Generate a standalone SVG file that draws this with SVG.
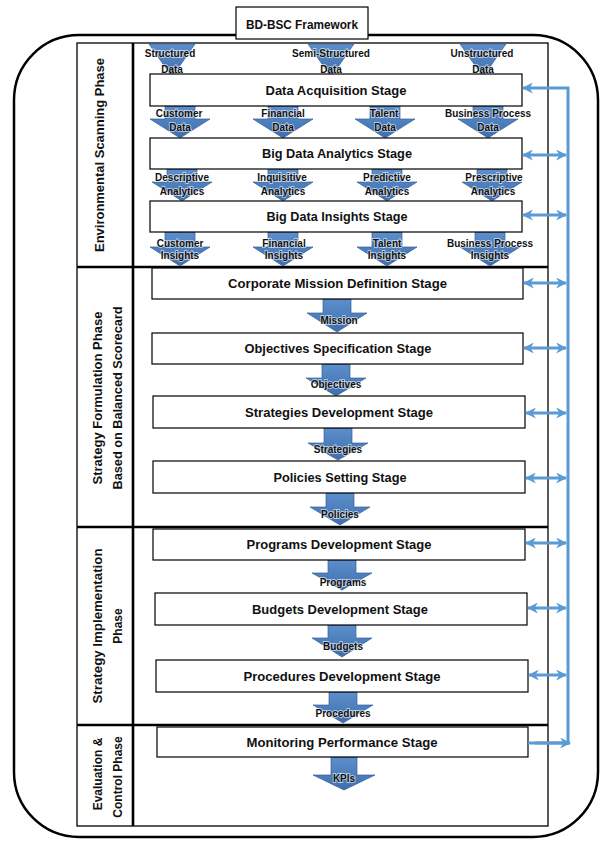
<svg xmlns="http://www.w3.org/2000/svg" width="605" height="841" viewBox="0 0 605 841">
  <style>
    .frame{fill:none;stroke:#000;stroke-width:2.5}
    .thin{fill:none;stroke:#000;stroke-width:1.3}
    .thick{fill:none;stroke:#000;stroke-width:2.6}
    .box{fill:#fff;stroke:#000;stroke-width:1.2}
    .stage{font-family:"Liberation Sans",Arial,sans-serif;font-weight:bold;font-size:12.5px;fill:#111;text-anchor:middle}
    .phase{font-family:"Liberation Sans",Arial,sans-serif;font-weight:bold;font-size:12px;fill:#111;text-anchor:middle}
    .lbl{font-family:"Liberation Sans",Arial,sans-serif;font-weight:bold;font-size:10px;fill:#111;text-anchor:middle;stroke:#fff;stroke-width:1.8;stroke-opacity:0.6;paint-order:stroke}
    .blk{fill:url(#blue);stroke:#355f98;stroke-width:0.7}
    .link{fill:none;stroke:#5b9bd5;stroke-width:3}
  </style>
  <defs>
    <linearGradient id="blue" x1="0" y1="0" x2="0" y2="1">
      <stop offset="0" stop-color="#5d8fcc"/>
      <stop offset="1" stop-color="#3e6eae"/>
    </linearGradient>
    <marker id="head" viewBox="0 0 10 10" refX="9" refY="5" markerWidth="11" markerHeight="11" markerUnits="userSpaceOnUse" orient="auto-start-reverse">
      <path d="M0,0 L10,5 L0,10 L3,5 Z" fill="#5b9bd5"/>
    </marker>
  </defs>

  <!-- outer rounded frame and title -->
  <rect class="frame" x="14" y="35" width="584" height="802" rx="65" ry="65"/>
  <g id="title">
    <rect class="box" x="236" y="7" width="132" height="32"/>
    <text class="stage" x="302" y="28.5" font-size="15" textLength="112" lengthAdjust="spacingAndGlyphs">BD-BSC Framework</text>
  </g>

  <!-- inner table: phase column and phase bands -->
  <rect class="thin" x="77" y="43" width="471" height="783"/>
  <line class="thick" x1="133" y1="43" x2="133" y2="826"/>
  <line class="thick" x1="77" y1="267" x2="548" y2="267"/>
  <line class="thick" x1="77" y1="527" x2="548" y2="527"/>
  <line class="thick" x1="77" y1="725" x2="548" y2="725"/>

  <g id="phase-scanning">
    <text class="phase" transform="translate(103.5,155) rotate(-90)" textLength="194" lengthAdjust="spacingAndGlyphs">Environmental Scanning Phase</text>
  </g>
  <g id="phase-formulation">
    <text class="phase" transform="translate(102,398) rotate(-90)" textLength="173" lengthAdjust="spacingAndGlyphs">Strategy Formulation Phase</text>
    <text class="phase" transform="translate(121.5,398) rotate(-90)" textLength="183" lengthAdjust="spacingAndGlyphs">Based on Balanced Scorecard</text>
  </g>
  <g id="phase-implementation">
    <text class="phase" transform="translate(102,626) rotate(-90)" textLength="155" lengthAdjust="spacingAndGlyphs">Strategy Implementation</text>
    <text class="phase" transform="translate(121.5,626) rotate(-90)">Phase</text>
  </g>
  <g id="phase-evaluation">
    <text class="phase" transform="translate(102,774) rotate(-90)">Evaluation &amp;</text>
    <text class="phase" transform="translate(121.5,777) rotate(-90)">Control Phase</text>
  </g>

  <!-- block arrows carrying data between stages -->
  <g id="flows">
    <!-- sources -->
    <path class="blk" d="M149,44 L195,44 L172,77 Z"/>
    <path class="blk" d="M308,44 L354,44 L331,77 Z"/>
    <path class="blk" d="M460,44 L506,44 L483,77 Z"/>
    <!-- acquisition outputs -->
    <path class="blk" d="M165,106 L195,106 L195,119 L210,119 L180,138 L150,119 L165,119 Z"/>
    <path class="blk" d="M268,106 L298,106 L298,119 L313,119 L283,138 L253,119 L268,119 Z"/>
    <path class="blk" d="M370,106 L400,106 L400,119 L415,119 L385,138 L355,119 L370,119 Z"/>
    <path class="blk" d="M473,106 L503,106 L503,119 L518,119 L488,138 L458,119 L473,119 Z"/>
    <!-- analytics outputs -->
    <path class="blk" d="M167,169 L197,169 L197,182 L212,182 L182,201 L152,182 L167,182 Z"/>
    <path class="blk" d="M268,169 L298,169 L298,182 L313,182 L283,201 L253,182 L268,182 Z"/>
    <path class="blk" d="M372,169 L402,169 L402,182 L417,182 L387,201 L357,182 L372,182 Z"/>
    <path class="blk" d="M477,169 L507,169 L507,182 L522,182 L492,201 L462,182 L477,182 Z"/>
    <!-- insights outputs -->
    <path class="blk" d="M165,232 L195,232 L195,247 L210,247 L180,266 L150,247 L165,247 Z"/>
    <path class="blk" d="M268,232 L298,232 L298,247 L313,247 L283,266 L253,247 L268,247 Z"/>
    <path class="blk" d="M372,232 L402,232 L402,247 L417,247 L387,266 L357,247 L372,247 Z"/>
    <path class="blk" d="M475,232 L505,232 L505,247 L520,247 L490,266 L460,247 L475,247 Z"/>
    <!-- formulation chain -->
    <path class="blk" d="M323,299 L351,299 L351,313 L367,313 L337,332 L307,313 L323,313 Z"/>
    <path class="blk" d="M322,364 L350,364 L350,378 L366,378 L336,396 L306,378 L322,378 Z"/>
    <path class="blk" d="M324,428 L352,428 L352,443 L368,443 L338,460 L308,443 L324,443 Z"/>
    <path class="blk" d="M326,493 L354,493 L354,507 L370,507 L340,525 L310,507 L326,507 Z"/>
    <!-- implementation chain -->
    <path class="blk" d="M328,560 L356,560 L356,573 L372,573 L342,590 L312,573 L328,573 Z"/>
    <path class="blk" d="M328,625 L356,625 L356,638 L372,638 L342,657 L312,638 L328,638 Z"/>
    <path class="blk" d="M329,692 L357,692 L357,705 L373,705 L343,723 L313,705 L329,705 Z"/>
    <path class="blk" d="M331,757 L357,757 L357,775 L375,775 L344,790 L313,775 L331,775 Z"/>
  </g>

  <g id="flow-labels">
    <text class="lbl" x="170" y="57">Structured</text><text class="lbl" x="172" y="73">Data</text>
    <text class="lbl" x="331" y="57">Semi-Structured</text><text class="lbl" x="331" y="73">Data</text>
    <text class="lbl" x="482" y="57">Unstructured</text><text class="lbl" x="483" y="73">Data</text>

    <text class="lbl" x="179" y="117">Customer</text><text class="lbl" x="180" y="131">Data</text>
    <text class="lbl" x="283" y="117">Financial</text><text class="lbl" x="283" y="131">Data</text>
    <text class="lbl" x="384" y="117">Talent</text><text class="lbl" x="385" y="131">Data</text>
    <text class="lbl" x="488" y="117">Business Process</text><text class="lbl" x="488" y="131">Data</text>

    <text class="lbl" x="182" y="181">Descriptive</text><text class="lbl" x="182" y="195">Analytics</text>
    <text class="lbl" x="282" y="181">Inquisitive</text><text class="lbl" x="283" y="195">Analytics</text>
    <text class="lbl" x="387" y="181">Predictive</text><text class="lbl" x="387" y="195">Analytics</text>
    <text class="lbl" x="494" y="181">Prescriptive</text><text class="lbl" x="493" y="195">Analytics</text>

    <text class="lbl" x="180" y="247">Customer</text><text class="lbl" x="180" y="259">Insights</text>
    <text class="lbl" x="284" y="247">Financial</text><text class="lbl" x="284" y="259">Insights</text>
    <text class="lbl" x="387" y="247">Talent</text><text class="lbl" x="387" y="259">Insights</text>
    <text class="lbl" x="490" y="247">Business Process</text><text class="lbl" x="490" y="259">Insights</text>

    <text class="lbl" x="339" y="324">Mission</text>
    <text class="lbl" x="336" y="388">Objectives</text>
    <text class="lbl" x="338" y="453">Strategies</text>
    <text class="lbl" x="340" y="518">Policies</text>
    <text class="lbl" x="343" y="586">Programs</text>
    <text class="lbl" x="343" y="650">Budgets</text>
    <text class="lbl" x="343" y="717">Procedures</text>
    <text class="lbl" x="344" y="782">KPIs</text>
  </g>

  <!-- stages -->
  <g id="data-acquisition"><rect class="box" x="150" y="74" width="372" height="32"/><text class="stage" x="336" y="94.5" textLength="141" lengthAdjust="spacingAndGlyphs">Data Acquisition Stage</text></g>
  <g id="big-data-analytics"><rect class="box" x="150" y="138" width="372" height="31"/><text class="stage" x="337" y="158" textLength="150" lengthAdjust="spacingAndGlyphs">Big Data Analytics Stage</text></g>
  <g id="big-data-insights"><rect class="box" x="150" y="201" width="372" height="31"/><text class="stage" x="337" y="221" textLength="141" lengthAdjust="spacingAndGlyphs">Big Data Insights Stage</text></g>
  <g id="corporate-mission"><rect class="box" x="152" y="268" width="371" height="31"/><text class="stage" x="337.5" y="288" textLength="219" lengthAdjust="spacingAndGlyphs">Corporate Mission Definition Stage</text></g>
  <g id="objectives"><rect class="box" x="152" y="333" width="371" height="31"/><text class="stage" x="338" y="353" textLength="187" lengthAdjust="spacingAndGlyphs">Objectives Specification Stage</text></g>
  <g id="strategies"><rect class="box" x="153" y="396" width="372" height="32"/><text class="stage" x="339" y="416.5" textLength="188" lengthAdjust="spacingAndGlyphs">Strategies Development Stage</text></g>
  <g id="policies"><rect class="box" x="153" y="461" width="372" height="32"/><text class="stage" x="340" y="481.5" textLength="133" lengthAdjust="spacingAndGlyphs">Policies Setting Stage</text></g>
  <g id="programs"><rect class="box" x="153" y="529" width="372" height="31"/><text class="stage" x="339" y="549" textLength="185" lengthAdjust="spacingAndGlyphs">Programs Development Stage</text></g>
  <g id="budgets"><rect class="box" x="155" y="593" width="372" height="32"/><text class="stage" x="340" y="613.5" textLength="176" lengthAdjust="spacingAndGlyphs">Budgets Development Stage</text></g>
  <g id="procedures"><rect class="box" x="156" y="660" width="372" height="32"/><text class="stage" x="342" y="680.5" textLength="197" lengthAdjust="spacingAndGlyphs">Procedures Development Stage</text></g>
  <g id="monitoring"><rect class="box" x="157" y="727" width="371" height="30"/><text class="stage" x="342" y="746.5" textLength="191" lengthAdjust="spacingAndGlyphs">Monitoring Performance Stage</text></g>

  <!-- feedback loop along the right side -->
  <g id="connectors">
    <polyline class="link" points="528,743 568,743 568,88 523,88" marker-end="url(#head)"/>
    <line class="link" x1="535" y1="743" x2="570" y2="743" marker-end="url(#head)"/>
    <line class="link" x1="523" y1="155" x2="566" y2="155" marker-start="url(#head)" marker-end="url(#head)"/>
    <line class="link" x1="523" y1="215" x2="566" y2="215" marker-start="url(#head)" marker-end="url(#head)"/>
    <line class="link" x1="524" y1="283" x2="566" y2="283" marker-start="url(#head)" marker-end="url(#head)"/>
    <line class="link" x1="524" y1="348" x2="566" y2="348" marker-start="url(#head)" marker-end="url(#head)"/>
    <line class="link" x1="526" y1="413" x2="566" y2="413" marker-start="url(#head)" marker-end="url(#head)"/>
    <line class="link" x1="526" y1="478" x2="566" y2="478" marker-start="url(#head)" marker-end="url(#head)"/>
    <line class="link" x1="526" y1="543" x2="566" y2="543" marker-start="url(#head)" marker-end="url(#head)"/>
    <line class="link" x1="528" y1="608" x2="566" y2="608" marker-start="url(#head)" marker-end="url(#head)"/>
    <line class="link" x1="529" y1="675" x2="566" y2="675" marker-start="url(#head)" marker-end="url(#head)"/>
  </g>
</svg>
